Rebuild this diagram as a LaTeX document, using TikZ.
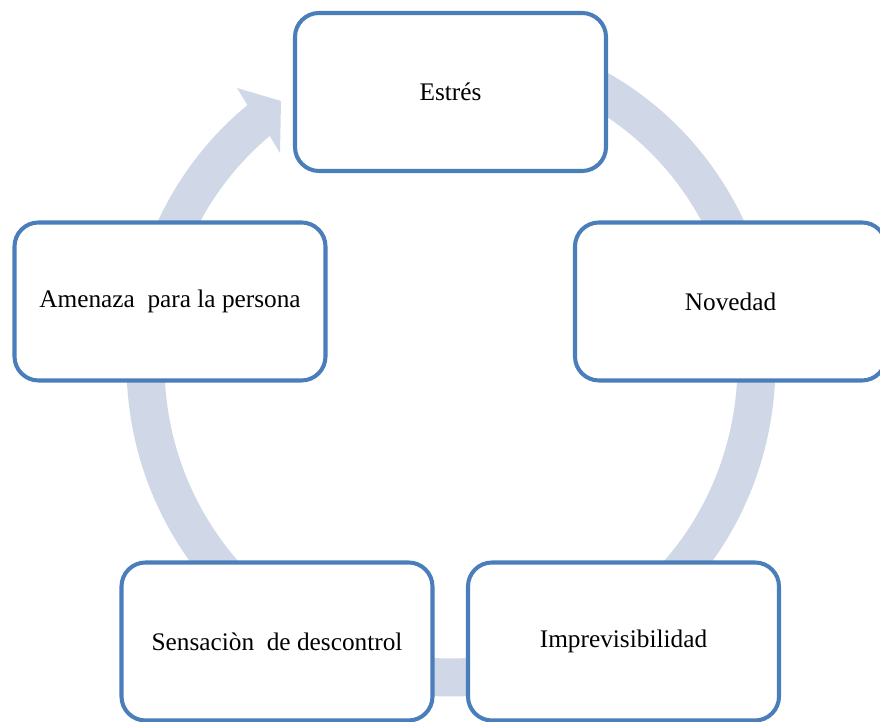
\documentclass[tikz,border=0pt]{standalone}
\usepackage{fontspec}
\setmainfont{Liberation Serif}
\usepackage{tikz}

\definecolor{boxblue}{RGB}{74,126,187}
\definecolor{ringgray}{RGB}{208,216,232}

\begin{document}
\begin{tikzpicture}[
  box/.style={draw=boxblue, line width=2.3pt, rounded corners=0.48cm, fill=white,
    minimum width=6.22cm, minimum height=3.16cm, inner sep=0pt, align=center,
    font=\fontsize{14.4}{17}\selectfont},
  ring/.style={draw=ringgray, line width=0.76cm}
]
\useasboundingbox (0,0) rectangle (17.6,14.44);
% ring with its arrow head
\draw[ring] (9.02,7.16) ++(127.5:6.11 and 6.27) arc[start angle=127.5, end angle=450, x radius=6.11, y radius=6.27];
\fill[ringgray] (4.93,12.37) -- (4.74,12.68) -- (5.62,12.42) -- (5.60,11.38) -- (5.40,11.71) -- cycle;
\node[box] (estres) at (9.01,12.60) {Estrés};
\node[box] (novedad) at (14.61,8.41) {Novedad};
\node[box] (imprev) at (12.47,1.61) {Imprevisibilidad};
\node[box] (descontrol) at (5.54,1.61) {Sensaciòn\ \ de descontrol};
\node[box] (amenaza) at (3.40,8.41) {Amenaza\ \ para la persona};
\end{tikzpicture}
\end{document}
